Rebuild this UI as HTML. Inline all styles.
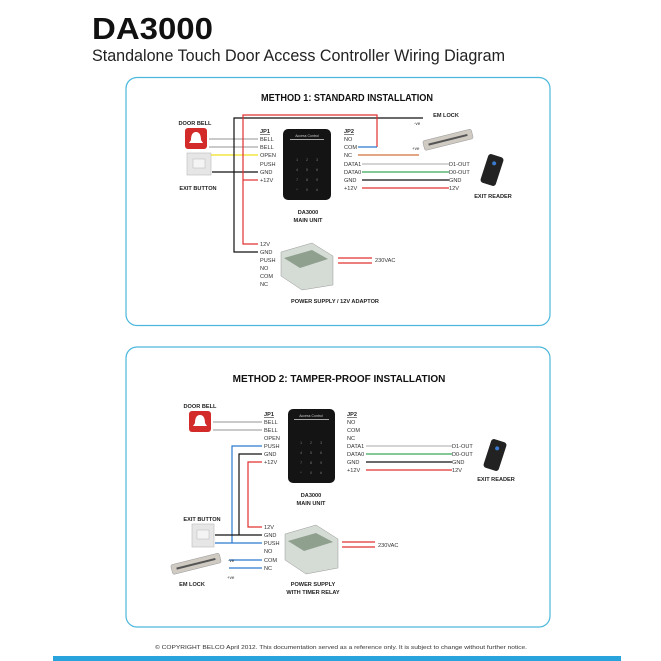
<!DOCTYPE html>
<html><head><meta charset="utf-8"><style>
html,body{margin:0;padding:0;background:#fff;}
svg{display:block;font-family:"Liberation Sans",sans-serif;}
.l{font-size:5.6px;fill:#333;}
.b{font-size:5.6px;font-weight:bold;fill:#222;}
.t{font-size:10px;font-weight:bold;fill:#111;}
</style></head><body>
<svg width="661" height="661" viewBox="0 0 661 661" xmlns="http://www.w3.org/2000/svg">
<rect width="661" height="661" fill="#fff"/>
<text x="92" y="39" font-size="31" font-weight="bold" fill="#111" textLength="121" lengthAdjust="spacingAndGlyphs">DA3000</text>
<text x="92" y="61" font-size="16.3" fill="#222" textLength="413" lengthAdjust="spacingAndGlyphs">Standalone Touch Door Access Controller Wiring Diagram</text>

<rect x="126" y="77.5" width="424" height="248" rx="11" fill="none" stroke="#4cb8dc" stroke-width="1.2"/>
<rect x="126" y="347" width="424" height="280" rx="11" fill="none" stroke="#4cb8dc" stroke-width="1.2"/>

<!-- METHOD 1 -->
<text x="261" y="101" class="t" textLength="172" lengthAdjust="spacingAndGlyphs">METHOD 1: STANDARD INSTALLATION</text>
<text x="195" y="125" text-anchor="middle" class="b" font-size="5px">DOOR BELL</text>
<rect x="185" y="128" width="22" height="21" rx="3" fill="#d32a2a"/>
<path d="M196 132 c-4 0 -5 4 -5 8 l-2 3 h14 l-2 -3 c0 -4 -1 -8 -5 -8z" fill="#fff"/>
<rect x="187" y="153" width="24" height="22" fill="#e6e6e6" stroke="#bbb" stroke-width=".6"/>
<rect x="193" y="159" width="12" height="9" fill="#f4f4f4" stroke="#aaa" stroke-width=".4"/>
<text x="198" y="190" text-anchor="middle" class="b" font-size="5px">EXIT BUTTON</text>

<g stroke-width="1.2" fill="none">
<line x1="209" y1="139" x2="258" y2="139" stroke="#aaa"/>
<line x1="209" y1="147" x2="258" y2="147" stroke="#aaa"/>
<line x1="211" y1="155" x2="258" y2="155" stroke="#f0e020"/>
<line x1="212" y1="172" x2="258" y2="172" stroke="#111"/>
<polyline points="258,252 234,252 234,118 423,118" stroke="#111"/>
<polyline points="258,244 243,244 243,115 377,115 377,147" stroke="#e03030"/>
<line x1="243" y1="180" x2="258" y2="180" stroke="#e03030"/>
<line x1="358" y1="147" x2="377" y2="147" stroke="#2a7ad0"/>
<line x1="358" y1="155" x2="419" y2="155" stroke="#d2703a"/>
<line x1="362" y1="164" x2="449" y2="164" stroke="#bbb"/>
<line x1="362" y1="172" x2="449" y2="172" stroke="#3aa85a"/>
<line x1="362" y1="180" x2="449" y2="180" stroke="#111"/>
<line x1="362" y1="188" x2="449" y2="188" stroke="#e03030"/>
<line x1="338" y1="258" x2="372" y2="258" stroke="#e03030"/>
<line x1="338" y1="263" x2="372" y2="263" stroke="#e03030"/>
</g>
<g class="l">
<text x="260" y="133" class="b" text-decoration="underline">JP1</text>
<text x="260" y="141">BELL</text><text x="260" y="149">BELL</text><text x="260" y="157">OPEN</text>
<text x="260" y="166">PUSH</text><text x="260" y="174">GND</text><text x="260" y="182">+12V</text>
<text x="344" y="133" class="b" text-decoration="underline">JP2</text>
<text x="344" y="141">NO</text><text x="344" y="149">COM</text><text x="344" y="157">NC</text>
<text x="344" y="166">DATA1</text><text x="344" y="174">DATA0</text><text x="344" y="182">GND</text><text x="344" y="190">+12V</text>
<text x="449" y="166">D1-OUT</text><text x="449" y="174">D0-OUT</text><text x="449" y="182">GND</text><text x="449" y="190">12V</text>
<text x="260" y="246">12V</text><text x="260" y="254">GND</text><text x="260" y="262">PUSH</text>
<text x="260" y="270">NO</text><text x="260" y="278">COM</text><text x="260" y="286">NC</text>
<text x="375" y="262">230VAC</text>
<text x="414" y="125" font-size="4.5px">-ve</text><text x="412" y="150" font-size="4.5px">+ve</text>
</g>
<rect x="283" y="129" width="48" height="71" rx="5" fill="#141414"/>
<rect x="290" y="139" width="34" height="1" fill="#aaa"/>
<text x="307" y="137" text-anchor="middle" font-size="3.5" fill="#ccc">Access Control</text>
<g fill="#777" font-size="3.8" text-anchor="middle">
<text x="297" y="161">1</text><text x="307" y="161">2</text><text x="317" y="161">3</text>
<text x="297" y="171">4</text><text x="307" y="171">5</text><text x="317" y="171">6</text>
<text x="297" y="181">7</text><text x="307" y="181">8</text><text x="317" y="181">9</text>
<text x="297" y="191">*</text><text x="307" y="191">0</text><text x="317" y="191">#</text>
</g>
<text x="308" y="214" text-anchor="middle" class="b" font-size="5px">DA3000</text>
<text x="308" y="222" text-anchor="middle" class="b" font-size="5px">MAIN UNIT</text>
<text x="446" y="117" text-anchor="middle" class="b" font-size="5px">EM LOCK</text>
<g transform="rotate(-14 447 140)"><rect x="423" y="135" width="50" height="10" rx="2" fill="#cfcac2" stroke="#999" stroke-width=".5"/><rect x="428" y="139" width="40" height="2" fill="#555"/></g>
<g transform="rotate(18 492 170)"><rect x="484" y="155" width="16" height="30" rx="3" fill="#222"/><circle cx="492" cy="163" r="2" fill="#3a7ad0"/></g>
<text x="493" y="198" text-anchor="middle" class="b" font-size="5px">EXIT READER</text>
<polygon points="281,252 312,243 333,256 333,285 302,290 281,276" fill="#d5dbd5" stroke="#999" stroke-width=".5"/>
<polygon points="284,258 312,250 328,259 300,268" fill="#8fa08f"/>
<text x="335" y="303" text-anchor="middle" class="b" font-size="5px">POWER SUPPLY / 12V ADAPTOR</text>

<!-- METHOD 2 -->
<text x="339" y="382" text-anchor="middle" class="t">METHOD 2: TAMPER-PROOF INSTALLATION</text>
<text x="200" y="408" text-anchor="middle" class="b" font-size="5px">DOOR BELL</text>
<rect x="189" y="411" width="22" height="21" rx="3" fill="#d32a2a"/>
<path d="M200 415 c-4 0 -5 4 -5 8 l-2 3 h14 l-2 -3 c0 -4 -1 -8 -5 -8z" fill="#fff"/>
<text x="202" y="521" text-anchor="middle" class="b" font-size="5px">EXIT BUTTON</text>
<rect x="192" y="524" width="22" height="23" fill="#e6e6e6" stroke="#bbb" stroke-width=".6"/>
<rect x="197" y="530" width="12" height="9" fill="#f4f4f4" stroke="#aaa" stroke-width=".4"/>
<g transform="rotate(-14 195 564)"><rect x="171" y="559" width="50" height="10" rx="2" fill="#cfcac2" stroke="#999" stroke-width=".5"/><rect x="176" y="563" width="40" height="2" fill="#555"/></g>
<text x="192" y="586" text-anchor="middle" class="b" font-size="5px">EM LOCK</text>
<g stroke-width="1.2" fill="none">
<line x1="213" y1="422" x2="262" y2="422" stroke="#aaa"/>
<line x1="213" y1="430" x2="262" y2="430" stroke="#aaa"/>
<polyline points="262,446 232,446 232,543" stroke="#2a7ad0"/>
<polyline points="262,454 239,454 239,535" stroke="#111"/>
<polyline points="262,462 248,462 248,527 262,527" stroke="#e03030"/>
<line x1="215" y1="535" x2="262" y2="535" stroke="#111"/>
<line x1="215" y1="543" x2="262" y2="543" stroke="#2a7ad0"/>
<line x1="229" y1="560" x2="262" y2="560" stroke="#2a7ad0"/>
<line x1="229" y1="568" x2="262" y2="568" stroke="#2a7ad0"/>
<line x1="366" y1="446" x2="452" y2="446" stroke="#bbb"/>
<line x1="366" y1="454" x2="452" y2="454" stroke="#3aa85a"/>
<line x1="366" y1="462" x2="452" y2="462" stroke="#111"/>
<line x1="366" y1="470" x2="452" y2="470" stroke="#e03030"/>
<line x1="342" y1="542" x2="375" y2="542" stroke="#e03030"/>
<line x1="342" y1="547" x2="375" y2="547" stroke="#e03030"/>
</g>
<g class="l">
<text x="264" y="416" class="b" text-decoration="underline">JP1</text>
<text x="264" y="424">BELL</text><text x="264" y="432">BELL</text><text x="264" y="440">OPEN</text>
<text x="264" y="448">PUSH</text><text x="264" y="456">GND</text><text x="264" y="464">+12V</text>
<text x="347" y="416" class="b" text-decoration="underline">JP2</text>
<text x="347" y="424">NO</text><text x="347" y="432">COM</text><text x="347" y="440">NC</text>
<text x="347" y="448">DATA1</text><text x="347" y="456">DATA0</text><text x="347" y="464">GND</text><text x="347" y="472">+12V</text>
<text x="452" y="448">D1-OUT</text><text x="452" y="456">D0-OUT</text><text x="452" y="464">GND</text><text x="452" y="472">12V</text>
<text x="264" y="529">12V</text><text x="264" y="537">GND</text><text x="264" y="545">PUSH</text>
<text x="264" y="553">NO</text><text x="264" y="562">COM</text><text x="264" y="570">NC</text>
<text x="378" y="547">230VAC</text>
<text x="228" y="562" font-size="4.5px">-ve</text><text x="227" y="579" font-size="4.5px">+ve</text>
</g>
<rect x="288" y="409" width="47" height="74" rx="5" fill="#141414"/>
<rect x="294" y="419" width="35" height="1" fill="#aaa"/>
<text x="311" y="417" text-anchor="middle" font-size="3.5" fill="#ccc">Access Control</text>
<g fill="#777" font-size="3.8" text-anchor="middle">
<text x="301" y="444">1</text><text x="311" y="444">2</text><text x="321" y="444">3</text>
<text x="301" y="454">4</text><text x="311" y="454">5</text><text x="321" y="454">6</text>
<text x="301" y="464">7</text><text x="311" y="464">8</text><text x="321" y="464">9</text>
<text x="301" y="474">*</text><text x="311" y="474">0</text><text x="321" y="474">#</text>
</g>
<text x="311" y="497" text-anchor="middle" class="b" font-size="5px">DA3000</text>
<text x="311" y="505" text-anchor="middle" class="b" font-size="5px">MAIN UNIT</text>
<g transform="rotate(18 495 455)"><rect x="487" y="440" width="16" height="30" rx="3" fill="#222"/><circle cx="495" cy="448" r="2" fill="#3a7ad0"/></g>
<text x="496" y="481" text-anchor="middle" class="b" font-size="5px">EXIT READER</text>
<polygon points="285,534 316,525 338,539 338,568 306,574 285,560" fill="#d5dbd5" stroke="#999" stroke-width=".5"/>
<polygon points="288,541 316,533 333,542 304,551" fill="#8fa08f"/>
<text x="313" y="586" text-anchor="middle" class="b" font-size="5px">POWER SUPPLY</text>
<text x="313" y="594" text-anchor="middle" class="b" font-size="5px">WITH TIMER RELAY</text>

<text x="155" y="649" font-size="5.6" fill="#333" textLength="372" lengthAdjust="spacingAndGlyphs">© COPYRIGHT BELCO April 2012. This documentation served as a reference only. It is subject to change without further notice.</text>
<rect x="53" y="656" width="568" height="5" fill="#29a3db"/>
</svg>
</body></html>
